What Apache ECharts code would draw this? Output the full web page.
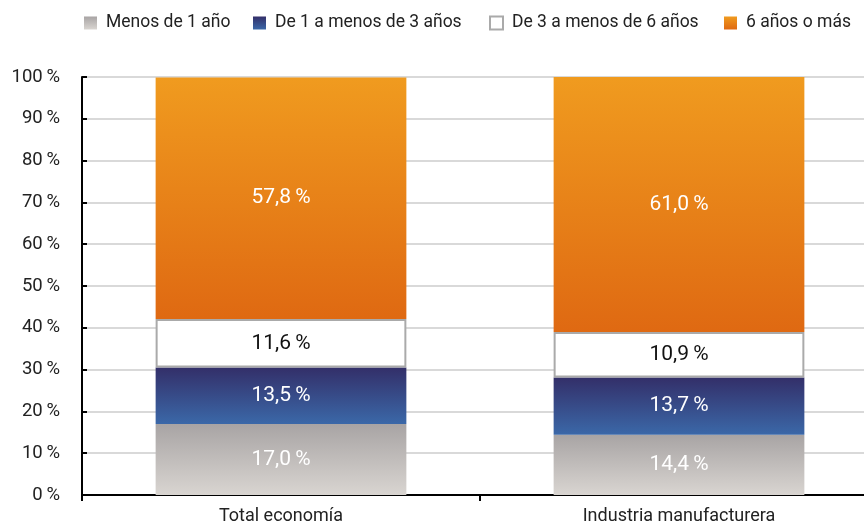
<!DOCTYPE html>
<html><head><meta charset="utf-8">
<script src="https://cdn.jsdelivr.net/npm/echarts@6/dist/echarts.min.js"></script>
<style>html,body{margin:0;padding:0;background:#fff}#c{width:864px;height:523px}</style>
</head><body><div id="c"></div>
<script>
const categories = ['Total economía', 'Industria manufacturera'];
const seriesNames = ['Menos de 1 año', 'De 1 a menos de 3 años', 'De 3 a menos de 6 años', '6 años o más'];
const menos1 = [17.0, 14.4];
const de1a3 = [13.5, 13.7];
const de3a6 = [11.6, 10.9];
const mas6 = [57.8, 61.0];
const yTicks = [0, 10, 20, 30, 40, 50, 60, 70, 80, 90, 100];

const FONT = 'Roboto';
function grad(top, bottom) {
  return new echarts.graphic.LinearGradient(0, 0, 0, 1, [{offset: 0, color: top}, {offset: 1, color: bottom}]);
}
const fmt = v => v.toFixed(1).replace('.', ',') + '\u2009%';
const styles = [
  {color: grad('#a8a4a4', '#d9d5d1'), label: '#ffffff'},
  {color: grad('#332f69', '#3b68a8'), label: '#ffffff'},
  {color: '#ffffff', border: '#aaaaaa', label: '#111111'},
  {color: grad('#f09b1f', '#df6912'), label: '#ffffff'}
];
const values = [menos1, de1a3, de3a6, mas6];
const legendLeft = [84, 253, 489, 724];

const chart = echarts.init(document.getElementById('c'), null, {renderer: 'canvas'});
chart.setOption({
  animation: false,
  textStyle: {fontFamily: FONT},
  legend: seriesNames.map((n, i) => ({
    top: 14, left: legendLeft[i], padding: 0,
    itemWidth: 13, itemHeight: 13,
    textStyle: {fontFamily: FONT, fontSize: 17.5, color: '#222', padding: [0, 0, 0, 4]},
    data: [{name: n, icon: 'rect'}]
  })),
  grid: {left: 82, width: 796, top: 77, bottom: 28, outerBoundsMode: 'none', containLabel: false},
  xAxis: {
    type: 'category', data: categories,
    axisLine: {lineStyle: {color: '#000', width: 2}},
    axisTick: {show: true, length: 6, lineStyle: {color: '#000', width: 2}},
    axisLabel: {fontFamily: FONT, fontSize: 18, color: '#222', margin: 12}
  },
  yAxis: {
    type: 'value', min: yTicks[0], max: yTicks[yTicks.length - 1], interval: 10,
    axisLine: {show: true, lineStyle: {color: '#000', width: 2}},
    axisTick: {show: true, inside: true, length: 5, lineStyle: {color: '#000', width: 2}},
    axisLabel: {fontFamily: FONT, fontSize: 18.5, color: '#222', margin: 22, formatter: v => v + '\u2009%'},
    splitLine: {lineStyle: {color: '#cccccc', width: 1.5}}
  },
  series: seriesNames.map((n, i) => ({
    name: n, type: 'bar', stack: 'total', barWidth: '63%',
    data: values[i],
    itemStyle: styles[i].border ? {color: styles[i].color, borderColor: styles[i].border, borderWidth: 2} : {color: styles[i].color},
    label: {show: true, position: 'inside', fontFamily: FONT, fontSize: 21, color: styles[i].label, formatter: p => fmt(p.value)}
  }))
});
</script></body></html>
